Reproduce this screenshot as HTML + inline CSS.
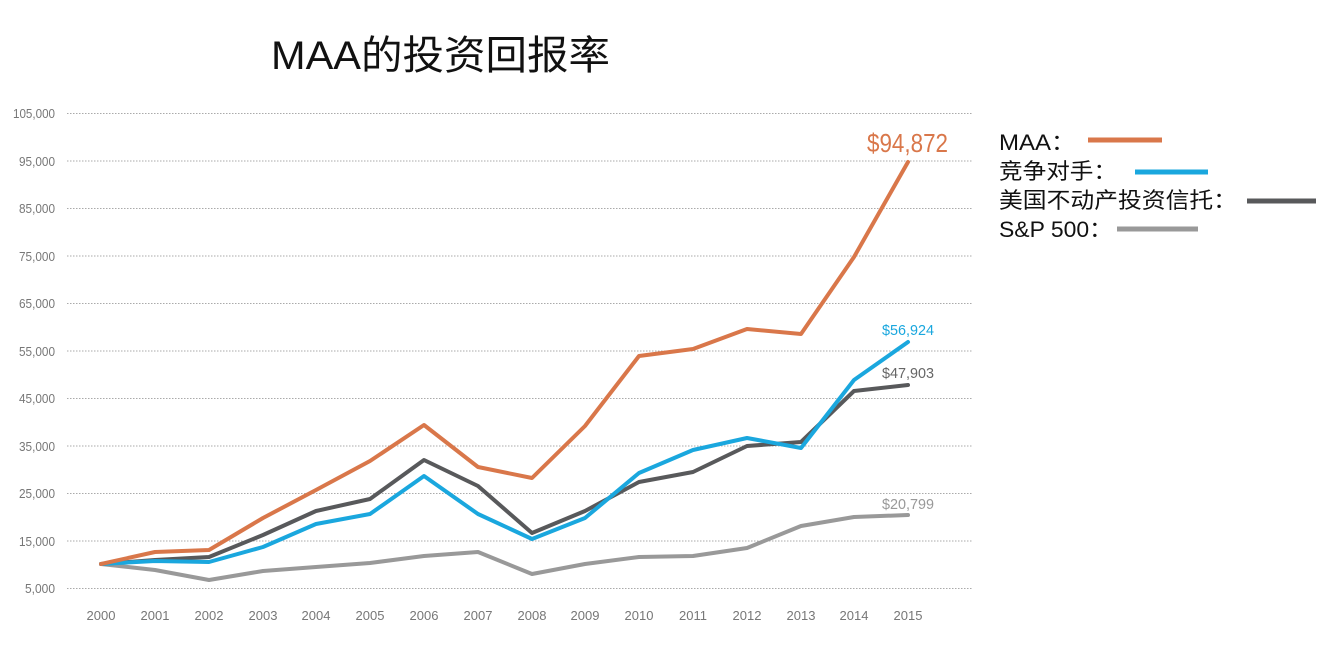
<!DOCTYPE html>
<html><head><meta charset="utf-8"><style>
html,body{margin:0;padding:0;background:#fff;}
svg{display:block;}
</style></head><body>
<svg width="1332" height="652" xmlns="http://www.w3.org/2000/svg" font-family="Liberation Sans, Noto Sans CJK SC, sans-serif">
<text x="271" y="69" font-size="40" fill="#111" textLength="339" lengthAdjust="spacingAndGlyphs">MAA的投资回报率</text>
<g stroke="#aaa" stroke-width="1" stroke-dasharray="1.5,1.5">
<line x1="67" x2="972" y1="113.5" y2="113.5"/><line x1="67" x2="972" y1="161" y2="161"/>
<line x1="67" x2="972" y1="208.5" y2="208.5"/><line x1="67" x2="972" y1="256" y2="256"/>
<line x1="67" x2="972" y1="303.5" y2="303.5"/><line x1="67" x2="972" y1="351" y2="351"/>
<line x1="67" x2="972" y1="398.5" y2="398.5"/><line x1="67" x2="972" y1="446" y2="446"/>
<line x1="67" x2="972" y1="493.5" y2="493.5"/><line x1="67" x2="972" y1="541" y2="541"/>
<line x1="67" x2="972" y1="588.5" y2="588.5"/>
</g>
<g font-size="13" fill="#777" text-anchor="end">
<text x="55" y="118" textLength="42" lengthAdjust="spacingAndGlyphs">105,000</text>
<text x="55" y="166" textLength="36" lengthAdjust="spacingAndGlyphs">95,000</text>
<text x="55" y="213" textLength="36" lengthAdjust="spacingAndGlyphs">85,000</text>
<text x="55" y="261" textLength="36" lengthAdjust="spacingAndGlyphs">75,000</text>
<text x="55" y="308" textLength="36" lengthAdjust="spacingAndGlyphs">65,000</text>
<text x="55" y="356" textLength="36" lengthAdjust="spacingAndGlyphs">55,000</text>
<text x="55" y="403" textLength="36" lengthAdjust="spacingAndGlyphs">45,000</text>
<text x="55" y="451" textLength="36" lengthAdjust="spacingAndGlyphs">35,000</text>
<text x="55" y="498" textLength="36" lengthAdjust="spacingAndGlyphs">25,000</text>
<text x="55" y="546" textLength="36" lengthAdjust="spacingAndGlyphs">15,000</text>
<text x="55" y="593" textLength="30" lengthAdjust="spacingAndGlyphs">5,000</text>
</g>
<g font-size="13" fill="#777" text-anchor="middle">
<text x="101" y="620">2000</text><text x="155" y="620">2001</text><text x="209" y="620">2002</text><text x="263" y="620">2003</text>
<text x="316" y="620">2004</text><text x="370" y="620">2005</text><text x="424" y="620">2006</text><text x="478" y="620">2007</text>
<text x="532" y="620">2008</text><text x="585" y="620">2009</text><text x="639" y="620">2010</text><text x="693" y="620">2011</text>
<text x="747" y="620">2012</text><text x="801" y="620">2013</text><text x="854" y="620">2014</text><text x="908" y="620">2015</text>
</g>
<g fill="none" stroke-width="4" stroke-linejoin="round" stroke-linecap="round">
<polyline stroke="#999" points="101,564 155,570 209,580 263,571 316,567 370,563 424,556 478,552 532,574 585,564 639,557 693,556 747,548 801,526 854,517 908,515"/>
<polyline stroke="#58595b" points="101,564 155,560 209,557 263,535 316,511 370,499 424,460 478,486 532,533 585,511 639,482 693,472 747,446 801,442 854,391 908,385"/>
<polyline stroke="#1aa7de" points="101,564 155,561 209,562 263,547 316,524 370,514 424,476 478,514 532,539 585,518 639,473 693,450 747,438 801,448 854,380 908,342"/>
<polyline stroke="#d9774a" points="101,564 155,552 209,550 263,518 316,490 370,461 424,425 478,467 532,478 585,426 639,356 693,349 747,329 801,334 854,257 908,162"/>
</g>
<text x="867" y="152" font-size="26" fill="#d9774a" textLength="81" lengthAdjust="spacingAndGlyphs">$94,872</text>
<text x="882" y="335" font-size="15" fill="#1aa7de" textLength="52" lengthAdjust="spacingAndGlyphs">$56,924</text>
<text x="882" y="378" font-size="15" fill="#666" textLength="52" lengthAdjust="spacingAndGlyphs">$47,903</text>
<text x="882" y="509" font-size="15" fill="#999" textLength="52" lengthAdjust="spacingAndGlyphs">$20,799</text>
<g font-size="22" fill="#111">
<text x="999" y="150" textLength="76" lengthAdjust="spacingAndGlyphs">MAA：</text>
<text x="999" y="179" textLength="118" lengthAdjust="spacingAndGlyphs">竞争对手：</text>
<text x="999" y="208" textLength="238" lengthAdjust="spacingAndGlyphs">美国不动产投资信托：</text>
<text x="999" y="237" textLength="113" lengthAdjust="spacingAndGlyphs">S&amp;P 500：</text>
</g>
<g stroke-width="5">
<line x1="1088" x2="1162" y1="140" y2="140" stroke="#d9774a"/>
<line x1="1135" x2="1208" y1="172" y2="172" stroke="#1aa7de"/>
<line x1="1247" x2="1316" y1="201" y2="201" stroke="#58595b"/>
<line x1="1117" x2="1198" y1="229" y2="229" stroke="#999"/>
</g>
</svg>
</body></html>
